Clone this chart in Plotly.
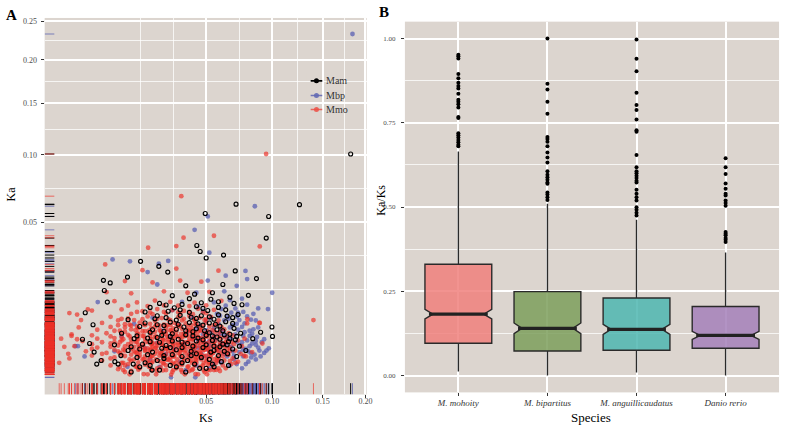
import numpy as np
import plotly.graph_objects as go

# ---- Panel A: Ks / Ka pairs ----
mmo_points = [
    [0.012, 0.0003], [0.020, 0.0002], [0.028, 0.0004], [0.036, 0.0003], [0.045, 0.0002], [0.055, 0.0004], [0.017, 0.0005],
    [0.014, 0.00035], [0.024, 0.00035], [0.031, 0.0003], [0.040, 0.00035], [0.049, 0.0003], [0.059, 0.00035],
    [0.010, 0.00045], [0.022, 0.0004], [0.033, 0.0005], [0.042, 0.00045], [0.051, 0.0004], [0.063, 0.0005],
    [0.008, 0.0007], [0.016, 0.0006], [0.024, 0.0005], [0.031, 0.0008], [0.039, 0.0006], [0.048, 0.0007], [0.058, 0.0005], [0.067, 0.0008],
    [0.012, 0.0007], [0.019, 0.00075], [0.028, 0.0007], [0.036, 0.00075], [0.043, 0.0007], [0.051, 0.00075], [0.061, 0.0007],
    [0.013, 0.0008], [0.020, 0.0009], [0.027, 0.00085], [0.035, 0.0008], [0.044, 0.0009], [0.053, 0.00085], [0.070, 0.0009],
    [0.006, 0.0011], [0.011, 0.0009], [0.018, 0.0012], [0.022, 0.0010], [0.027, 0.0013], [0.033, 0.0009], [0.041, 0.0011], [0.047, 0.0012],
    [0.052, 0.0009], [0.062, 0.0011], [0.072, 0.0010],
    [0.014, 0.00105], [0.020, 0.0011], [0.025, 0.00105], [0.030, 0.0011], [0.037, 0.00105], [0.044, 0.0011], [0.050, 0.00105],
    [0.057, 0.0011], [0.066, 0.00105],
    [0.008, 0.0013], [0.015, 0.0012], [0.021, 0.0014], [0.029, 0.0012], [0.037, 0.0013], [0.045, 0.0014], [0.055, 0.0012], [0.068, 0.0013],
    [0.004, 0.0016], [0.009, 0.0014], [0.014, 0.0017], [0.019, 0.0015], [0.025, 0.0016], [0.030, 0.0014], [0.035, 0.0017], [0.043, 0.0015],
    [0.050, 0.0016], [0.057, 0.0014], [0.065, 0.0017], [0.078, 0.0015],
    [0.012, 0.00155], [0.017, 0.0016], [0.022, 0.00155], [0.027, 0.0016], [0.032, 0.00155], [0.039, 0.0016], [0.046, 0.00155],
    [0.053, 0.0016], [0.061, 0.00155],
    [0.006, 0.0018], [0.011, 0.0017], [0.016, 0.0019], [0.023, 0.0018], [0.028, 0.0017], [0.034, 0.0019], [0.040, 0.0018], [0.047, 0.0017],
    [0.052, 0.0019], [0.059, 0.0018], [0.074, 0.0018],
    [0.003, 0.0021], [0.007, 0.0019], [0.012, 0.0022], [0.017, 0.0020], [0.021, 0.0023], [0.026, 0.0019], [0.032, 0.0021], [0.038, 0.0022],
    [0.044, 0.0020], [0.049, 0.0023], [0.054, 0.0019], [0.061, 0.0021], [0.070, 0.0022], [0.083, 0.0020],
    [0.010, 0.0021], [0.015, 0.0021], [0.019, 0.00215], [0.024, 0.0021], [0.029, 0.00215], [0.035, 0.0021], [0.041, 0.00215],
    [0.046, 0.0021], [0.052, 0.00215], [0.058, 0.0021], [0.066, 0.00215],
    [0.004, 0.0024], [0.009, 0.0023], [0.014, 0.0024], [0.019, 0.0023], [0.023, 0.0025], [0.028, 0.0024], [0.036, 0.0023], [0.042, 0.0024],
    [0.047, 0.0025], [0.051, 0.0024], [0.057, 0.0023], [0.064, 0.0024],
    [0.008, 0.0027], [0.012, 0.00275], [0.017, 0.0027], [0.022, 0.00275], [0.027, 0.0027], [0.031, 0.00275], [0.037, 0.0027],
    [0.043, 0.00275], [0.049, 0.0027], [0.056, 0.00275], [0.062, 0.0027],
    [0.0015, 0.0028], [0.005, 0.0026], [0.010, 0.0029], [0.015, 0.0027], [0.020, 0.0025], [0.024, 0.0029], [0.029, 0.0027], [0.034, 0.0030],
    [0.040, 0.0026], [0.046, 0.0028], [0.053, 0.0027], [0.059, 0.0029], [0.066, 0.0026], [0.075, 0.0028],
    [0.004, 0.0031], [0.008, 0.0032], [0.013, 0.0031], [0.018, 0.0030], [0.022, 0.0032], [0.026, 0.0031], [0.032, 0.0032], [0.036, 0.0031],
    [0.043, 0.0030], [0.050, 0.0032], [0.055, 0.0031], [0.061, 0.0032], [0.069, 0.0031],
    [0.009, 0.0034], [0.014, 0.0033], [0.019, 0.0034], [0.024, 0.0033], [0.029, 0.0034], [0.034, 0.0033], [0.039, 0.0034],
    [0.045, 0.0033], [0.052, 0.0034], [0.059, 0.0033], [0.067, 0.0034],
    [0.0025, 0.0036], [0.006, 0.0034], [0.011, 0.0037], [0.016, 0.0035], [0.022, 0.0033], [0.027, 0.0037], [0.031, 0.0035], [0.037, 0.0034],
    [0.042, 0.0038], [0.048, 0.0035], [0.056, 0.0036], [0.063, 0.0034], [0.072, 0.0037],
    [0.005, 0.0040], [0.009, 0.0041], [0.014, 0.0039], [0.019, 0.0040], [0.024, 0.0041], [0.029, 0.0039], [0.035, 0.0041], [0.040, 0.0040],
    [0.046, 0.0041], [0.053, 0.0039], [0.060, 0.0041], [0.077, 0.0040],
    [0.011, 0.0043], [0.016, 0.0042], [0.021, 0.0043], [0.026, 0.0042], [0.031, 0.0043], [0.036, 0.0042], [0.042, 0.0043],
    [0.048, 0.0042], [0.055, 0.0043], [0.063, 0.0042],
    [0.004, 0.0046], [0.008, 0.0044], [0.013, 0.0047], [0.018, 0.0045], [0.023, 0.0043], [0.028, 0.0048], [0.033, 0.0045], [0.039, 0.0046],
    [0.045, 0.0044], [0.051, 0.0047], [0.058, 0.0045], [0.068, 0.0046],
    [0.007, 0.0050], [0.011, 0.0051], [0.016, 0.0049], [0.021, 0.0052], [0.026, 0.0050], [0.031, 0.0051], [0.037, 0.0049], [0.043, 0.0051],
    [0.049, 0.0050], [0.056, 0.0052], [0.065, 0.0050],
    [0.012, 0.0053], [0.018, 0.0054], [0.023, 0.0053], [0.028, 0.0054], [0.033, 0.0053], [0.039, 0.0054], [0.045, 0.0053],
    [0.051, 0.0054], [0.059, 0.0053],
    [0.005, 0.0057], [0.009, 0.0055], [0.014, 0.0058], [0.019, 0.0054], [0.025, 0.0057], [0.030, 0.0056], [0.036, 0.0059], [0.041, 0.0055],
    [0.047, 0.0057], [0.054, 0.0056], [0.062, 0.0058],
    [0.008, 0.0063], [0.012, 0.0062], [0.016, 0.0064], [0.023, 0.0063], [0.028, 0.0062], [0.034, 0.0064], [0.039, 0.0063], [0.046, 0.0062],
    [0.052, 0.0064], [0.060, 0.0063],
    [0.010, 0.0067], [0.014, 0.0066], [0.019, 0.0067], [0.025, 0.0066], [0.030, 0.0067], [0.035, 0.0066], [0.041, 0.0067],
    [0.048, 0.0066], [0.055, 0.0067],
    [0.006, 0.0072], [0.012, 0.0069], [0.017, 0.0073], [0.021, 0.0070], [0.027, 0.0068], [0.032, 0.0072], [0.038, 0.0071], [0.044, 0.0069],
    [0.050, 0.0073], [0.057, 0.0070], [0.079, 0.0071],
    [0.010, 0.0078], [0.015, 0.0079], [0.023, 0.0077], [0.030, 0.0079], [0.036, 0.0078], [0.043, 0.0077], [0.049, 0.0079], [0.058, 0.0078],
    [0.011, 0.0082], [0.018, 0.0081], [0.024, 0.0082], [0.029, 0.0081], [0.037, 0.0082], [0.043, 0.0081], [0.050, 0.0082],
    [0.008, 0.0087], [0.013, 0.0083], [0.020, 0.0088], [0.026, 0.0084], [0.034, 0.0086], [0.040, 0.0089], [0.046, 0.0085], [0.053, 0.0087],
    [0.089, 0.0072],
    [0.014, 0.0095], [0.022, 0.0094], [0.028, 0.0096], [0.035, 0.0095], [0.042, 0.0094], [0.050, 0.0096],
    [0.016, 0.0100], [0.021, 0.0099], [0.027, 0.0100], [0.034, 0.0099], [0.040, 0.0100], [0.048, 0.0099],
    [0.004, 0.0104], [0.011, 0.0107], [0.018, 0.0102], [0.024, 0.0108], [0.031, 0.0105], [0.037, 0.0103], [0.045, 0.0109], [0.055, 0.0106],
    [0.013, 0.0118], [0.020, 0.0117], [0.027, 0.0119], [0.034, 0.0118], [0.040, 0.0117], [0.050, 0.0119],
    [0.009, 0.0132], [0.016, 0.0128], [0.023, 0.0134], [0.030, 0.0130], [0.043, 0.0127], [0.060, 0.0133],
    [0.007, 0.0162], [0.014, 0.0158], [0.027, 0.0165], [0.039, 0.0160], [0.052, 0.0163],
    [0.012, 0.0203], [0.022, 0.0198], [0.035, 0.0205], [0.047, 0.0201],
    [0.018, 0.0248], [0.033, 0.0255], [0.058, 0.0246],
    # in-between columns of the dense core
    [0.0135, 0.0002], [0.0185, 0.00021], [0.0235, 0.0002], [0.0305, 0.00019], [0.0375, 0.0002], [0.0435, 0.00021], [0.0505, 0.0002],
    [0.0105, 0.0006], [0.0155, 0.00062], [0.0205, 0.0006], [0.0255, 0.00058], [0.0335, 0.0006], [0.0395, 0.00062], [0.0465, 0.0006],
    [0.0545, 0.00058],
    [0.0135, 0.0012], [0.0185, 0.00124], [0.0235, 0.0012], [0.0285, 0.00117], [0.0335, 0.0012], [0.0395, 0.00123], [0.0435, 0.0012],
    [0.0505, 0.00118], [0.0585, 0.0012],
    [0.0105, 0.0019], [0.0155, 0.00195], [0.0205, 0.0019], [0.0255, 0.00186], [0.0305, 0.0019], [0.0375, 0.00194], [0.0435, 0.0019],
    [0.0465, 0.00187], [0.0545, 0.0019], [0.0635, 0.00193],
    [0.0135, 0.0026], [0.0185, 0.00265], [0.0235, 0.0026], [0.0285, 0.00255], [0.0335, 0.0026], [0.0375, 0.00266], [0.0435, 0.0026],
    [0.0505, 0.00256], [0.0585, 0.0026],
    [0.0105, 0.0034], [0.0155, 0.00347], [0.0205, 0.0034], [0.0255, 0.00333], [0.0305, 0.0034], [0.0395, 0.00346], [0.0465, 0.0034],
    [0.0545, 0.00335], [0.0635, 0.0034],
    [0.0135, 0.0044], [0.0185, 0.00448], [0.0235, 0.0044], [0.0285, 0.00432], [0.0335, 0.0044], [0.0375, 0.00447], [0.0435, 0.0044],
    [0.0505, 0.00434],
    [0.0105, 0.0055], [0.0155, 0.00561], [0.0205, 0.0055], [0.0255, 0.00541], [0.0305, 0.0055], [0.0395, 0.00559], [0.0465, 0.0055],
    [0.0135, 0.0068], [0.0185, 0.00692], [0.0235, 0.0068], [0.0285, 0.00671], [0.0335, 0.0068], [0.0435, 0.00688],
    [0.0115, 0.0004], [0.0165, 0.00042], [0.0215, 0.0004], [0.0265, 0.00038], [0.0315, 0.0004], [0.0355, 0.00041], [0.0415, 0.0004],
    [0.0485, 0.00039], [0.0525, 0.0004], [0.0565, 0.00041],
    [0.0115, 0.0009], [0.0165, 0.00093], [0.0215, 0.0009], [0.0265, 0.00088], [0.0315, 0.0009], [0.0355, 0.00092], [0.0415, 0.0009],
    [0.0485, 0.00088], [0.0565, 0.0009],
    [0.0165, 0.0015], [0.0215, 0.00153], [0.0265, 0.0015], [0.0315, 0.00147], [0.0355, 0.0015], [0.0415, 0.00152], [0.0485, 0.0015],
    [0.0525, 0.00148],
    [0.0115, 0.0023], [0.0165, 0.00234], [0.0215, 0.0023], [0.0265, 0.00226], [0.0315, 0.0023], [0.0355, 0.00233], [0.0415, 0.0023],
    [0.0485, 0.00227], [0.0565, 0.0023],
    [0.0165, 0.0030], [0.0215, 0.00304], [0.0265, 0.0030], [0.0315, 0.00296], [0.0355, 0.0030], [0.0415, 0.00303], [0.0485, 0.0030],
    [0.0115, 0.0039], [0.0165, 0.00394], [0.0215, 0.0039], [0.0265, 0.00386], [0.0315, 0.0039], [0.0415, 0.00393], [0.0485, 0.0039],
    [0.0165, 0.0049], [0.0215, 0.00494], [0.0265, 0.0049], [0.0355, 0.00486], [0.0415, 0.0049],
    [0.0165, 0.0060], [0.0215, 0.00605], [0.0315, 0.0060], [0.0415, 0.00596],
    # scattered outliers
    [0.0003, 0.0009], [0.0006, 0.0027], [0.0010, 0.0097], [0.0018, 0.0093], [0.0067, 0.0274], [0.0202, 0.0355], [0.0356, 0.0673],
    [0.0550, 0.0420], [0.0893, 0.0362], [0.0368, 0.0409], [0.0330, 0.0364], [0.0915, 0.0032], [0.0893, 0.0072], [0.0792, 0.0081],
    [0.0767, 0.0016], [0.0947, 0.1008], [0.1400, 0.0079], [0.0009, 0.0018], [0.0012, 0.0045], [0.0020, 0.0062], [0.0004, 0.0040],
    [0.0010, 0.0013], [0.0012, 0.0048], [0.0018, 0.0039], [0.0033, 0.0107], [0.0023, 0.0079],
]

mbp_points = [
    [0.0304, 0.0001], [0.0434, 0.0001], [0.025, 0.0006], [0.038, 0.0004], [0.052, 0.0005], [0.066, 0.0007], [0.075, 0.0005],
    [0.044, 0.0007], [0.060, 0.0009], [0.071, 0.0008], [0.086, 0.0012], [0.055, 0.0008], [0.078, 0.0008],
    [0.021, 0.0012], [0.035, 0.0010], [0.047, 0.0013], [0.058, 0.0011], [0.069, 0.0012], [0.080, 0.0010], [0.0823, 0.0014],
    [0.050, 0.0015], [0.064, 0.0015], [0.076, 0.0015], [0.090, 0.0015], [0.047, 0.0018], [0.069, 0.0016], [0.082, 0.0019],
    [0.028, 0.0018], [0.040, 0.0017], [0.053, 0.0019], [0.062, 0.0018], [0.073, 0.0020], [0.085, 0.0017], [0.093, 0.0019],
    [0.043, 0.0021], [0.058, 0.0022], [0.068, 0.0021], [0.080, 0.0021], [0.095, 0.0022], [0.051, 0.0023], [0.076, 0.0023], [0.089, 0.0022],
    [0.019, 0.0025], [0.032, 0.0024], [0.045, 0.0026], [0.056, 0.0025], [0.067, 0.0027], [0.078, 0.0024], [0.088, 0.0026], [0.097, 0.0025],
    [0.052, 0.0029], [0.063, 0.0030], [0.074, 0.0029], [0.086, 0.0030], [0.059, 0.0029], [0.081, 0.0028],
    [0.024, 0.0033], [0.037, 0.0032], [0.049, 0.0034], [0.060, 0.0033], [0.071, 0.0035], [0.083, 0.0032], [0.091, 0.0034],
    [0.045, 0.0037], [0.056, 0.0038], [0.067, 0.0039], [0.079, 0.0037], [0.093, 0.0039], [0.052, 0.0036], [0.075, 0.0034], [0.086, 0.0036],
    [0.030, 0.0043], [0.042, 0.0041], [0.055, 0.0044], [0.064, 0.0042], [0.076, 0.0045], [0.087, 0.0043], [0.062, 0.0046], [0.081, 0.0045],
    [0.048, 0.0048], [0.059, 0.0049], [0.070, 0.0048], [0.083, 0.0049], [0.053, 0.0052], [0.077, 0.0052],
    [0.026, 0.0055], [0.039, 0.0053], [0.050, 0.0056], [0.061, 0.0054], [0.072, 0.0057], [0.081, 0.0055], [0.060, 0.0058], [0.084, 0.0058],
    [0.044, 0.0060], [0.055, 0.0061], [0.066, 0.0062], [0.075, 0.0063], [0.088, 0.0062],
    [0.034, 0.0068], [0.046, 0.0066], [0.058, 0.0070], [0.068, 0.0067], [0.077, 0.0071], [0.0963, 0.0108], [0.071, 0.0070],
    [0.050, 0.0077], [0.062, 0.0078], [0.073, 0.0079], [0.082, 0.0080], [0.065, 0.0082], [0.079, 0.0088], [0.086, 0.0078],
    [0.022, 0.0085], [0.041, 0.0087], [0.053, 0.0084], [0.064, 0.0088], [0.071, 0.0088], [0.084, 0.0095], [0.059, 0.0090], [0.072, 0.0098],
    [0.057, 0.0095], [0.067, 0.0098], [0.076, 0.0100],
    [0.031, 0.0105], [0.048, 0.0103], [0.060, 0.0108], [0.070, 0.0110], [0.079, 0.0121],
    [0.045, 0.0115], [0.063, 0.0118], [0.088, 0.0110],
    [0.036, 0.0130], [0.055, 0.0128], [0.066, 0.0135], [0.075, 0.0140], [0.100, 0.0160],
    [0.044, 0.0160], [0.062, 0.0165], [0.079, 0.0211], [0.0777, 0.0245], [0.071, 0.0185],
    [0.051, 0.0205], [0.063, 0.0225], [0.043, 0.0454], [0.0852, 0.0603], [0.051, 0.0536], [0.184, 0.233],
    [0.0085, 0.0297], [0.0136, 0.0288], [0.0051, 0.0129], [0.0019, 0.0028], [0.0028, 0.0015], [0.0128, 0.0006], [0.0016, 0.0028],
    [0.029, 0.0290], [0.052, 0.0330], [0.024, 0.0190], [0.011, 0.0045], [0.015, 0.0070], [0.009, 0.0021],
    [0.0247, 0.0277], [0.0200, 0.0240],
]

mam_points = [
    [0.014, 0.0003], [0.025, 0.0004], [0.038, 0.0003], [0.050, 0.0005], [0.0551, 0.0006], [0.0218, 0.0004],
    [0.017, 0.0006], [0.033, 0.0006], [0.046, 0.0005], [0.065, 0.0007], [0.021, 0.0007], [0.036, 0.0009], [0.054, 0.0008],
    [0.010, 0.0008], [0.019, 0.0009], [0.030, 0.0007], [0.043, 0.0008], [0.060, 0.0010], [0.0147, 0.0008], [0.0091, 0.0010],
    [0.0058, 0.0011], [0.0049, 0.0008],
    [0.024, 0.0011], [0.039, 0.0011], [0.052, 0.0012], [0.058, 0.0016], [0.031, 0.0017], [0.044, 0.0018], [0.020, 0.0017],
    [0.027, 0.0016], [0.041, 0.0016], [0.053, 0.0020], [0.062, 0.0021],
    [0.016, 0.0014], [0.0108, 0.0016], [0.027, 0.0013], [0.036, 0.0015], [0.047, 0.0014], [0.0643, 0.0018], [0.071, 0.0015], [0.0044, 0.0020],
    [0.013, 0.0022], [0.022, 0.0020], [0.033, 0.0023], [0.041, 0.0021], [0.055, 0.0022], [0.078, 0.0022], [0.068, 0.0024],
    [0.017, 0.0024], [0.030, 0.0026], [0.042, 0.0028], [0.055, 0.0028], [0.064, 0.0030],
    [0.026, 0.0025], [0.036, 0.0026], [0.048, 0.0026], [0.059, 0.0027], [0.073, 0.0028], [0.014, 0.0027],
    [0.0036, 0.0032], [0.009, 0.0030], [0.018, 0.0031], [0.028, 0.0029], [0.039, 0.0032], [0.050, 0.0030], [0.061, 0.0031], [0.0835, 0.0040],
    [0.021, 0.0035], [0.031, 0.0036], [0.044, 0.0036], [0.054, 0.0037], [0.065, 0.0035],
    [0.025, 0.0034], [0.036, 0.0034], [0.048, 0.0038], [0.059, 0.0039], [0.070, 0.0038],
    [0.0025, 0.0039], [0.015, 0.0040], [0.024, 0.0042], [0.034, 0.0039], [0.045, 0.0041], [0.057, 0.0043], [0.066, 0.0040], [0.090, 0.0052],
    [0.020, 0.0041], [0.030, 0.0044], [0.042, 0.0045], [0.054, 0.0045], [0.066, 0.0048],
    [0.016, 0.0045], [0.026, 0.0046], [0.038, 0.0047], [0.050, 0.0046], [0.062, 0.0047], [0.071, 0.0044],
    [0.011, 0.0050], [0.021, 0.0052], [0.031, 0.0049], [0.042, 0.0053], [0.052, 0.0051], [0.074, 0.0050], [0.1003, 0.0044],
    [0.027, 0.0054], [0.038, 0.0055], [0.049, 0.0055], [0.061, 0.0055],
    [0.022, 0.0057], [0.033, 0.0058], [0.044, 0.0059], [0.057, 0.0057], [0.069, 0.0060],
    [0.0042, 0.0068], [0.017, 0.0064], [0.027, 0.0066], [0.037, 0.0063], [0.048, 0.0067], [0.059, 0.0065], [0.0998, 0.0063],
    [0.024, 0.0068], [0.034, 0.0069], [0.045, 0.0070], [0.056, 0.0069], [0.068, 0.0071],
    [0.019, 0.0072], [0.030, 0.0074], [0.040, 0.0073], [0.052, 0.0072], [0.063, 0.0075],
    [0.013, 0.0080], [0.023, 0.0082], [0.033, 0.0079], [0.044, 0.0083], [0.055, 0.0081], [0.068, 0.0085],
    [0.028, 0.0085], [0.041, 0.0086], [0.052, 0.0087], [0.064, 0.0089],
    [0.024, 0.0090], [0.035, 0.0091], [0.047, 0.0090], [0.058, 0.0092], [0.072, 0.0093],
    [0.0029, 0.0098], [0.0072, 0.0129], [0.019, 0.0100], [0.029, 0.0102], [0.040, 0.0099], [0.051, 0.0104], [0.063, 0.0106],
    [0.035, 0.0106], [0.048, 0.0110], [0.058, 0.0113], [0.028, 0.0120], [0.069, 0.0125],
    [0.021, 0.0113], [0.032, 0.0112], [0.044, 0.0115],
    [0.025, 0.0125], [0.036, 0.0122], [0.047, 0.0127], [0.058, 0.0130], [0.075, 0.0121],
    [0.053, 0.0138], [0.040, 0.0140], [0.066, 0.0145],
    [0.0065, 0.0168], [0.031, 0.0150], [0.043, 0.0155], [0.080, 0.0151], [0.054, 0.0160],
    [0.0079, 0.0196], [0.0063, 0.0206], [0.0128, 0.0219], [0.038, 0.0185], [0.061, 0.0190], [0.0865, 0.0213],
    [0.0173, 0.0288], [0.0247, 0.0265], [0.0288, 0.0240], [0.0699, 0.0245], [0.0615, 0.0318], [0.0500, 0.0304], [0.0463, 0.0336],
    [0.0443, 0.0367], [0.0948, 0.0407], [0.0705, 0.0617], [0.0494, 0.0555], [0.0969, 0.0536], [0.1257, 0.0614], [0.1818, 0.1008],
]

ks_ticks = [0.05, 0.10, 0.15, 0.20]
ka_ticks = [0.05, 0.10, 0.15, 0.20, 0.25]

# ---- Panel B: Ka/Ks box statistics ----
species = ["M. mohoity", "M. bipartitus", "M. anguillicaudatus", "Danio rerio"]
q1 = [0.096, 0.073, 0.075, 0.081]
median = [0.182, 0.140, 0.137, 0.119]
q3 = [0.330, 0.249, 0.230, 0.205]
lower_fence = [0.012, 0.000, 0.009, 0.000]
upper_fence = [0.665, 0.510, 0.462, 0.365]
notch_span = [0.0143, 0.016, 0.015, 0.012]
outliers = [
    [0.952, 0.947, 0.941, 0.895, 0.882, 0.869, 0.859, 0.852, 0.836, 0.818, 0.812, 0.805, 0.795, 0.767, 0.764,
     0.719, 0.713, 0.706, 0.699, 0.692, 0.685, 0.680],
    [1.000, 0.866, 0.849, 0.812, 0.777, 0.708, 0.702, 0.694, 0.680, 0.662, 0.647, 0.632, 0.606, 0.596, 0.588,
     0.581, 0.573, 0.569, 0.543, 0.537, 0.529, 0.521],
    [0.997, 0.940, 0.903, 0.839, 0.803, 0.788, 0.760, 0.728, 0.723, 0.654, 0.618, 0.606, 0.600, 0.593, 0.586,
     0.578, 0.573, 0.551, 0.539, 0.529, 0.519, 0.499, 0.492, 0.483, 0.475],
    [0.645, 0.618, 0.598, 0.570, 0.554, 0.539, 0.534, 0.519, 0.512, 0.504, 0.426, 0.421, 0.416, 0.408, 0.403, 0.396],
]
box_fill = ["rgba(240,128,124,0.85)", "rgba(124,159,92,0.85)", "rgba(77,182,176,0.85)", "rgba(164,128,186,0.85)"]

FONT = "Liberation Serif"
W, H = 792, 430
PANEL_A = "#DCD5CF"
PANEL_B = "#D8D0C9"
COL = {"Mam": "black", "Mbp": "rgba(85,92,178,0.72)", "Mmo": "rgba(236,48,40,0.68)"}
PTS = {"Mam": mam_points, "Mbp": mbp_points, "Mmo": mmo_points}


def rug(vals, lo, hi):
    a, b = [], []
    for v in vals:
        a += [v, v, None]
        b += [lo, hi, None]
    return a, b


fig = go.Figure()

# sqrt-scaled scatter (ggplot sqrt transform)
for name in ["Mbp", "Mmo", "Mam"]:
    pts = np.array(PTS[name])
    sx, sy = np.sqrt(pts[:, 0]), np.sqrt(pts[:, 1])
    if name == "Mam":
        marker = dict(symbol="circle-open", size=4, color="black", line=dict(width=1.15, color="black"))
    else:
        marker = dict(symbol="circle", size=4.8, color=COL[name], line=dict(width=0))
    fig.add_trace(go.Scatter(x=sx, y=sy, mode="markers", marker=marker, showlegend=False,
                             xaxis="x", yaxis="y", hoverinfo="skip"))

# rugs (3% of the panel, like geom_rug)
for name in ["Mbp", "Mam", "Mmo"]:
    pts = np.array(PTS[name])
    sx, sy = np.sqrt(pts[:, 0]), np.sqrt(pts[:, 1])
    rx, ry = rug(list(sx), 0, 0.03)
    fig.add_trace(go.Scatter(x=rx, y=ry, mode="lines", line=dict(color=COL[name], width=1),
                             showlegend=False, xaxis="x", yaxis="y3", hoverinfo="skip"))
    ly, lx = rug(list(sy), 0, 0.03)
    fig.add_trace(go.Scatter(x=lx, y=ly, mode="lines", line=dict(color=COL[name], width=1),
                             showlegend=False, xaxis="x3", yaxis="y", hoverinfo="skip"))

# hand-built legend inside panel A (panel fractions)
leg_names = ["Mam", "Mbp", "Mmo"]
leg_cols = ["black", "rgba(100,106,180,0.9)", "rgba(236,80,70,0.85)"]
leg_y = [0.833, 0.794, 0.757]
leg_x0, leg_x1 = 0.826, 0.862
for nm, c, yy in zip(leg_names, leg_cols, leg_y):
    fig.add_trace(go.Scatter(x=[leg_x0, leg_x1], y=[yy, yy], mode="lines", line=dict(color=c, width=1.6),
                             showlegend=False, xaxis="x3", yaxis="y3", hoverinfo="skip"))
    fig.add_trace(go.Scatter(x=[(leg_x0 + leg_x1) / 2], y=[yy], mode="markers", marker=dict(color=c, size=5),
                             showlegend=False, xaxis="x3", yaxis="y3", hoverinfo="skip"))

# panel B boxes
half = 0.375
for i, sp in enumerate(species):
    pos = i + 1
    fig.add_trace(go.Box(
        x=[pos], q1=[q1[i]], median=[median[i]], q3=[q3[i]],
        lowerfence=[lower_fence[i]], upperfence=[upper_fence[i]], notchspan=[notch_span[i]],
        notched=True, notchwidth=0.12, width=2 * half, boxpoints=False,
        fillcolor=box_fill[i], line=dict(color="#2a2a2a", width=1.4), whiskerwidth=0,
        showlegend=False, xaxis="x2", yaxis="y2", hoverinfo="skip"))
    fig.add_trace(go.Scatter(
        x=[pos - half * 0.88, pos + half * 0.88], y=[median[i], median[i]], mode="lines",
        line=dict(color="#222222", width=3.2), showlegend=False, xaxis="x2", yaxis="y2", hoverinfo="skip"))
    fig.add_trace(go.Scatter(
        x=[pos] * len(outliers[i]), y=outliers[i], mode="markers",
        marker=dict(color="black", size=4), showlegend=False, xaxis="x2", yaxis="y2", hoverinfo="skip"))

# sqrt-space minor breaks (midpoints of major breaks, as ggplot does)
ka_major = list(np.sqrt(ka_ticks))
ks_major = list(np.sqrt(ks_ticks))


def minor_breaks(major, top):
    step = major[1] - major[0]
    b = [major[0] - step] + major
    out = [b[0]]
    for a, c in zip(b[:-1], b[1:]):
        out.append((a + c) / 2)
    return [v for v in out if v < top]


tick_font = dict(family=FONT, size=8, color="#4d4d4d")

# pixel geometry of the two panels
ax_l, ax_r, ay_t, ay_b = 45, 369.5, 17, 394.4
bx_l, bx_r, by_t, by_b = 408, 785, 20.7, 392.3

annos = [
    dict(text="<b>A</b>", x=12 / W, y=(H - 14) / H),
    dict(text="<b>B</b>", x=387 / W, y=(H - 11) / H),
    dict(text="Ks", x=208 / W, y=(H - 418) / H),
    dict(text="Ka", x=11 / W, y=(H - 193) / H, textangle=-90),
    dict(text="Ka/Ks", x=383 / W, y=(H - 200) / H, textangle=-90),
    dict(text="Species", x=596 / W, y=(H - 417) / H, font=dict(family=FONT, size=13, color="black")),
]
for a in annos:
    a.update(xref="paper", yref="paper", showarrow=False, xanchor="center", yanchor="middle")
    a.setdefault("font", dict(family=FONT, size=15 if "<b>" in a["text"] else 12, color="black"))
for nm, yy in zip(leg_names, leg_y):
    annos.append(dict(text=nm, x=leg_x1 + 0.004, y=yy, xref="x3", yref="y3", xanchor="left", yanchor="middle",
                      showarrow=False, font=dict(family=FONT, size=10, color="#333")))

fig.update_layout(
    width=W, height=H,
    margin=dict(l=0, r=0, t=0, b=0),
    paper_bgcolor="white",
    plot_bgcolor=PANEL_A,
    showlegend=False,
    font=dict(family=FONT, color="black"),
    xaxis=dict(domain=[ax_l / W, ax_r / W], range=[-0.0031, 0.4489], anchor="y",
               tickvals=ks_major, ticktext=["%.2f" % v for v in ks_ticks],
               ticks="outside", ticklen=3, tickcolor="#333", tickfont=tick_font, ticklabelstandoff=-4,
               showgrid=True, gridcolor="white", gridwidth=1.6, zeroline=False, showline=False,
               minor=dict(tickmode="array", tickvals=minor_breaks(ks_major, 0.449), showgrid=True,
                          gridcolor="rgba(255,255,255,0.75)", gridwidth=0.8)),
    yaxis=dict(domain=[(H - ay_b) / H, (H - ay_t) / H], range=[-0.0136, 0.5048], anchor="x",
               tickvals=ka_major, ticktext=["%.2f" % v for v in ka_ticks],
               ticks="outside", ticklen=3, tickcolor="#333", tickfont=tick_font, ticklabelstandoff=2,
               showgrid=True, gridcolor="white", gridwidth=1.6, zeroline=False, showline=False,
               minor=dict(tickmode="array", tickvals=minor_breaks(ka_major, 0.504), showgrid=True,
                          gridcolor="rgba(255,255,255,0.75)", gridwidth=0.8)),
    xaxis3=dict(overlaying="x", range=[0, 1], visible=False, anchor="y"),
    yaxis3=dict(overlaying="y", range=[0, 1], visible=False, anchor="x"),
    xaxis2=dict(domain=[bx_l / W, bx_r / W], range=[0.4, 4.6], anchor="y2",
                tickvals=[1, 2, 3, 4], ticktext=["<i>%s</i>" % s for s in species],
                ticks="outside", ticklen=3, tickcolor="#333", ticklabelstandoff=-1,
                tickfont=dict(family=FONT, size=9, color="#333"),
                showgrid=True, gridcolor="white", gridwidth=1.6, zeroline=False, showline=False),
    yaxis2=dict(domain=[(H - by_b) / H, (H - by_t) / H], range=[-0.05, 1.05], anchor="x2",
                tickvals=[0, 0.25, 0.5, 0.75, 1.0], ticktext=["0.00", "0.25", "0.50", "0.75", "1.00"],
                ticks="outside", ticklen=3, tickcolor="#333", ticklabelstandoff=4,
                tickfont=dict(family=FONT, size=7, color="#4d4d4d"),
                showgrid=True, gridcolor="white", gridwidth=1.6, zeroline=False, showline=False,
                minor=dict(tickmode="array", tickvals=[0.125, 0.375, 0.625, 0.875], showgrid=True,
                           gridcolor="rgba(255,255,255,0.75)", gridwidth=0.8)),
    shapes=[dict(type="rect", xref="x3", yref="y3", layer="below",
                 x0=0.814, x1=0.946, y0=0.738, y1=0.854, fillcolor=PANEL_A, line=dict(width=0))],
    annotations=annos,
)

# the page's default 8px body margin would shift the whole figure
fig.write_html("out.html", config={"displayModeBar": False},
               post_script="document.body.style.margin='0';")
